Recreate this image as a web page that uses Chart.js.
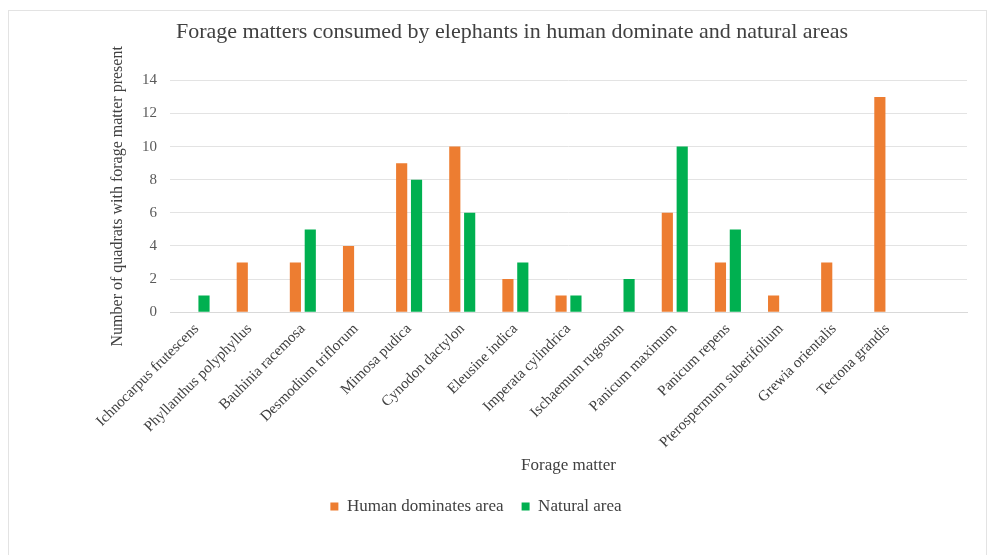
<!DOCTYPE html>
<html>
<head>
<meta charset="utf-8">
<script src="https://cdn.jsdelivr.net/npm/chart.js@4"></script>
<style>
  body { margin: 0; background: #fff; }
  #wrap { position: absolute; left: 8px; top: 10px; width: 977px; height: 545px; border: 1px solid #e3e3e3; border-bottom: none; }
  canvas { position: absolute; left: -9px; top: -11px; }
</style>
</head>
<body>
<div id="wrap"><canvas id="chart" width="993" height="555"></canvas></div>
<script>
// forage species (last slot is empty in the original sheet)
var species = [
  "Ichnocarpus frutescens", "Phyllanthus polyphyllus", "Bauhinia racemosa",
  "Desmodium triflorum", "Mimosa pudica", "Cynodon dactylon", "Eleusine indica",
  "Imperata cylindrica", "Ischaemum rugosum", "Panicum maximum", "Panicum repens",
  "Pterospermum suberifolium", "Grewia orientalis", "Tectona grandis", ""
];
var humanArea = [0, 3, 3, 4, 9, 10, 2, 1, 0, 6, 3, 1, 3, 13, null];
var naturalArea = [1, 0, 5, 0, 8, 6, 3, 1, 2, 10, 5, 0, 0, 0, null];
var yTicks = [0, 2, 4, 6, 8, 10, 12, 14];

var serif = "'Liberation Serif', 'Times New Roman', serif";
Chart.defaults.font.family = serif;
Chart.defaults.color = "#595959";

// the title and legend sit a little off the plot centre in the original
var recentre = {
  id: "recentre",
  afterLayout: function (chart) {
    var t = chart.titleBlock, w = t.right - t.left;
    t.left = 512 - w / 2; t.right = 512 + w / 2;
    var l = chart.legend, lw = l.right - l.left;
    l.left = 476 - lw / 2; l.right = 476 + lw / 2;
  }
};

var ctx = document.getElementById("chart").getContext("2d");
var chart = new Chart(ctx, {
  type: "bar",
  data: {
    labels: species,
    datasets: [
      { label: "Human dominates area", data: humanArea, backgroundColor: "#ED7D31" },
      { label: "Natural area", data: naturalArea, backgroundColor: "#00B050" }
    ]
  },
  options: {
    responsive: false,
    animation: false,
    categoryPercentage: 0.56,
    barPercentage: 0.75,
    layout: { padding: { left: 108, right: 26, top: 14, bottom: 30 } },
    plugins: {
      title: {
        display: true,
        text: "Forage matters consumed by elephants in human dominate and natural areas",
        color: "#404040",
        font: { size: 22, weight: "normal" },
        padding: { top: 5, bottom: 35 }
      },
      legend: {
        position: "bottom",
        labels: { boxWidth: 8, boxHeight: 8, font: { size: 17 }, color: "#404040", padding: 18 }
      },
      tooltip: { enabled: false }
    },
    scales: {
      x: {
        grid: { display: false },
        border: { color: "#d9d9d9" },
        ticks: { autoSkip: false, maxRotation: 45, minRotation: 45, padding: 0, font: { size: 15 }, color: "#404040" },
        title: { display: true, text: "Forage matter", font: { size: 17 }, color: "#404040", padding: { top: 4 } }
      },
      y: {
        min: 0,
        max: 14,
        afterBuildTicks: function (axis) { axis.ticks = yTicks.map(function (v) { return { value: v }; }); },
        afterFit: function (axis) { axis.width = 62; },
        grid: { color: "#e3e3e3", drawTicks: false },
        border: { display: false },
        ticks: { padding: 13, font: { size: 15 }, color: "#595959" },
        title: { display: true, text: "Number of quadrats with forage matter present", font: { size: 16 }, color: "#404040", padding: 0 }
      }
    }
  },
  plugins: [recentre]
});
</script>
</body>
</html>
